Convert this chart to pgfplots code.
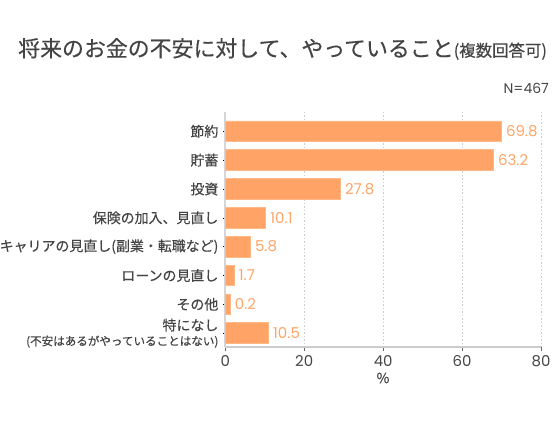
\documentclass[border=0pt]{standalone}
\usepackage{fontspec}
\setmainfont[FakeBold=0.35]{Noto Sans CJK JP}
\newfontfamily\numfont{Poppins}
\usepackage{pgfplots}
\usepackage{pgfplotstable}
\pgfplotsset{compat=1.18}
\definecolor{barc}{HTML}{FFA466}
\definecolor{barl}{HTML}{FFB987}
\definecolor{txt}{HTML}{444444}
\definecolor{axc}{HTML}{CCCCCC}
\pgfplotstableread{
x y lab
69.9 0 69.8
67.9 1 63.2
29.1 2 27.8
10.2 3 10.1
6.3 4 5.8
2.2 5 1.7
1.2 6 0.2
10.9 7 10.5
}\data
\begin{document}
\begin{tikzpicture}
\path[use as bounding box] (0,0) rectangle (560bp,430bp);
\begin{axis}[
  at={(225.3bp,83bp)}, anchor=south west,
  scale only axis, width=315.7bp, height=235bp,
  xbar, bar width=20.7bp,
  xmin=0, xmax=80, ymin=-0.67, ymax=7.48, y dir=reverse,
  xtick={0,20,40,60,80},
  ytick={0,...,7},
  yticklabels={{節約},{貯蓄},{投資},{保険の加入、見直し},{キャリアの見直し(副業・転職など)},{ローンの見直し},{その他},{特になし\\{\fontsize{11.6}{15}\selectfont(不安はあるがやっていることはない)}}},
  yticklabel style={align=right, font=\fontsize{14}{15}\selectfont, text=txt, inner sep=1bp, xshift=-1.5bp},
  xticklabel style={font=\numfont\fontsize{15}{15}\selectfont, text=txt, yshift=-1bp},
  /pgf/number format/assume math mode=true,
  axis x line*=bottom, axis y line*=left,
  x axis line style={draw=axc, line width=2bp, -},
  y axis line style={draw=axc!80!white, line width=2bp, -},
  tick align=outside,
  xtick style={draw=txt!80, line width=0.8bp},
  ytick style={draw=black, line width=0.6bp},
  xtick style={/pgfplots/major tick length=4bp},
  ytick style={/pgfplots/major tick length=2bp},
  xmajorgrids, grid style={draw=gray!40, dash pattern=on 1.5bp off 2bp, line width=0.6bp},
  nodes near coords, point meta=explicit symbolic,
  nodes near coords style={font=\numfont\fontsize{15}{15}\selectfont, text=barc, anchor=west, inner sep=2.5bp, xshift=2bp},
  clip=false,
]
\addplot[fill=barc, draw=barl, line width=0.8bp] table[x=x, y=y, meta=lab] {\data};
\end{axis}
\node[anchor=west, text=txt, inner sep=0] at (18bp,381bp) {\fontsize{22}{22}\selectfont 将来のお金の不安に対して、やっていること{\fontsize{16.5}{16.5}\selectfont(複数回答可)}};
\node[anchor=east, text=txt, inner sep=0] at (549bp,342bp) {\numfont\fontsize{14}{14}\selectfont N=467};
\node[text=txt, inner sep=0] at (383bp,52bp) {\fontsize{14}{14}\selectfont\%};
\end{tikzpicture}
\end{document}
